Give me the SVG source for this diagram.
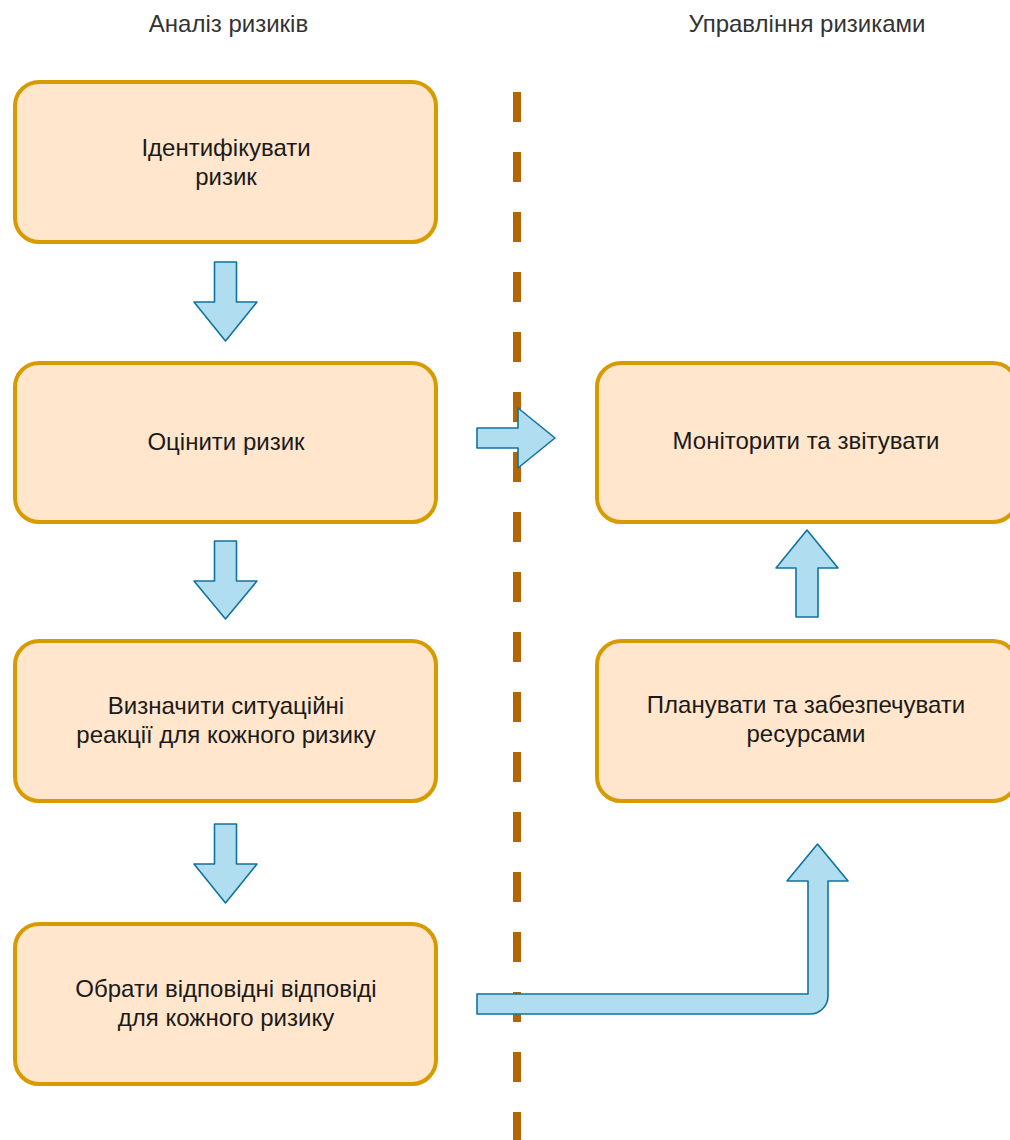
<svg xmlns="http://www.w3.org/2000/svg" width="1010" height="1140" viewBox="0 0 1010 1140">
<style>
.box{fill:#ffe6cc;stroke:#d79b00;stroke-width:4}
.t{font-family:"Liberation Sans",Arial,sans-serif;font-size:24px;fill:#1a1a1a;text-anchor:middle}
.h{font-family:"Liberation Sans",Arial,sans-serif;font-size:24px;fill:#333333;text-anchor:middle}
.arr{fill:#b1ddf0;stroke:#10739e;stroke-width:1.6;stroke-linejoin:round}
</style>
<rect width="1010" height="1140" fill="#ffffff"/>
<g id="headers">
<text class="h" x="228.5" y="32">Аналіз ризиків</text>
<text class="h" x="807" y="32">Управління ризиками</text>
</g>
<line id="divider" x1="517" y1="92" x2="517" y2="1140" stroke="#b46504" stroke-width="8" stroke-dasharray="30 30"/>
<g id="n1">
<rect class="box" x="15" y="82" width="421" height="160" rx="24"/>
<text class="t" x="226" y="156">Ідентифікувати</text>
<text class="t" x="226" y="185">ризик</text>
</g>
<g id="n2">
<rect class="box" x="15" y="363" width="421" height="159" rx="24"/>
<text class="t" x="226" y="450">Оцінити ризик</text>
</g>
<g id="n3">
<rect class="box" x="15" y="641" width="421" height="160" rx="24"/>
<text class="t" x="226" y="714">Визначити ситуаційні</text>
<text class="t" x="226" y="743">реакції для кожного ризику</text>
</g>
<g id="n4">
<rect class="box" x="15" y="924" width="421" height="160" rx="24"/>
<text class="t" x="226" y="997">Обрати відповідні відповіді</text>
<text class="t" x="226" y="1026">для кожного ризику</text>
</g>
<g id="n5">
<rect class="box" x="597" y="363" width="420" height="159" rx="24"/>
<text class="t" x="806" y="449">Моніторити та звітувати</text>
</g>
<g id="n6">
<rect class="box" x="597" y="641" width="420" height="160" rx="24"/>
<text class="t" x="806" y="713">Планувати та забезпечувати</text>
<text class="t" x="806" y="742">ресурсами</text>
</g>
<g id="connectors">
<path class="arr" d="M214.5,262 L236.5,262 L236.5,302 L257,302 L225.5,341 L194,302 L214.5,302 Z"/>
<path class="arr" d="M214.5,541 L236.5,541 L236.5,581 L257,581 L225.5,619 L194,581 L214.5,581 Z"/>
<path class="arr" d="M214.5,824 L236.5,824 L236.5,864 L257,864 L225.5,903 L194,864 L214.5,864 Z"/>
<path class="arr" d="M477,428 L518,428 L518,408 L555,438 L518,468 L518,448 L477,448 Z"/>
<path class="arr" d="M807,530 L838,568 L818,568 L818,617 L796,617 L796,568 L776,568 Z"/>
<path class="arr" d="M477,994 L808,994 L808,881 L787,881 L817.5,844 L848,881 L828,881 L828,996 A18,18 0 0 1 810,1014 L477,1014 Z"/>
</g>
</svg>
